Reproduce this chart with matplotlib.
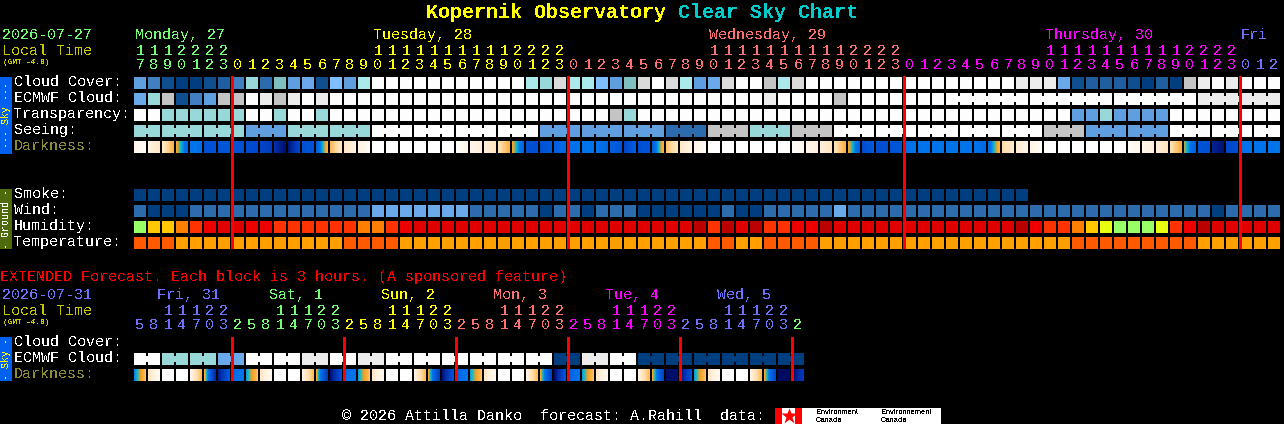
import matplotlib
matplotlib.use('Agg')
import matplotlib.pyplot as plt
import numpy as np
from matplotlib.colors import LinearSegmentedColormap
from matplotlib.patches import Rectangle

plt.rcParams['font.family'] = ['Liberation Mono', 'DejaVu Sans Mono']
plt.rcParams['text.antialiased'] = False

# Chart content, one letter per block
cloud_cover = list("FEBAABCEJDIFGBHFK" + "W" * 11 + "KJMKKHFIMWMKFGMWWLKM" + "W" * 15 + "NNN" + "GBCCCBACALNWNWWW")
ecmwf_cloud = list("GJLBEFLLWNLNWN" + "W" * 31 + "N" + "WWWW" + "L" + "W" * 25 + "N" * 6)
transparency = list("WWJJJJJJWWJWWJ" + "W" * 20 + "LJ" + "W" * 31 + "FFJFFFF" + "W" * 8)
seeing = list("J" * 8 + "FFF" + "J" * 6 + "W" * 12 + "F" * 9 + "DDD" + "LLL" + "JJJ" + "LLL" + "W" * 15 + "LLL" + "F" * 6 + "W" * 8)
smoke = list("A" * 64)
wind = list("D" + "AAA" + "D" * 13 + "G" * 7 + "D" * 5 + "A" + "DD" + "A" + "DDD" + "A" * 6 + "D" + "AA" + "D" * 5 + "G" + "D" * 26 + "A" + "DDDD")
humidity = list("gccoreddee" + "r" * 6 + "oored" + "d" * 19 + "brbdbrreebdd" + "d" * 11 + "berrocygggyreb" + "d" * 5)
temperature = list("sss" + "u" * 12 + "ssss" + "u" * 22 + "ss" + "uu" + "ssss" + "u" * 18 + "s" * 9 + "u" * 6)

# darkness at the left and right edge of each block, 0 = daylight, 1 = full dark
dark_left = [.06, .10, .15, .34, .50, .68, .66, .66, .70, .74, .85, .95, .68, .60, .28, .15, .10,
             0, 0, 0, 0, 0, 0, .01, .08, .12, .18, .34, .68, .68, .60, .50, .50, .50, .60, .74, .68, .60, .26, .15, .08,
             0, 0, 0, 0, 0, 0, .02, .08, .12, .18, .34, .70, .68, .66, .52, .50, .50, .50, .50, .50, .55, .20, .13, .08,
             0, 0, 0, 0, 0, 0, .03, .08, .12, .18, .38, .66, .90, .72, .52, .50, .50]
dark_right = [.04, .15, .30, .56, .52, .66, .66, .68, .72, .78, .98, .72, .66, .30, .15, .10, .04,
              0, 0, 0, 0, 0, 0, .08, .12, .16, .30, .58, .68, .62, .54, .50, .50, .56, .66, .60, .66, .30, .16, .09, .03,
              0, 0, 0, 0, 0, 0, .06, .11, .16, .30, .58, .62, .68, .66, .50, .50, .50, .50, .50, .56, .30, .14, .09, .03,
              0, 0, 0, 0, 0, 0, .07, .11, .16, .31, .60, .68, .96, .70, .50, .50, .50]

ext_ecmwf = list("WWJJJJGGWWWWNNWWNN" + "W" * 12 + "AANNWW" + "A" * 12)
ext_dark_left = [.48, .16, 0, 0, .08, .32, .92, .52, .45, .15, 0, 0, .10, .34, .96, .52,
                 .45, .15, 0, 0, .10, .34, .95, .56, .45, .15, 0, 0, .10, .34, .98, .58,
                 .45, .15, 0, 0, .10, .34, .98, .96, .45, .15, 0, 0, .10, .34, 1.0, .98]
ext_dark_right = [.26, .05, 0, 0, .28, .88, .62, .50, .26, .05, 0, 0, .28, .80, .68, .50,
                  .26, .05, 0, 0, .28, .78, .66, .50, .26, .05, 0, 0, .28, .76, .64, .50,
                  .26, .05, 0, 0, .28, .74, .98, .66, .26, .05, 0, 0, .28, .72, 1.0, .80]

row_labels = ["Cloud Cover:", "ECMWF Cloud:", "Transparency:", "Seeing:", "Darkness:"]
ground_labels = ["Smoke:", "Wind:", "Humidity:", "Temperature:"]
ext_labels = ["Cloud Cover:", "ECMWF Cloud:", "Darkness:"]

day_names = ["Monday, 27", "Tuesday, 28", "Wednesday, 29", "Thursday, 30", "Fri"]
day_first_block = [0, 17, 41, 65, 79]
ext_day_names = ["Fri, 31", "Sat, 1", "Sun, 2", "Mon, 3", "Tue, 4", "Wed, 5"]
ext_hours = [5, 8, 11, 14, 17, 20, 23, 2] * 6
red_blocks = [7, 31, 55, 79]

palette = {
    'A': '#003F7F', 'B': '#0F4F8F', 'C': '#1F5F9F', 'D': '#2C6CAC', 'E': '#4080C0',
    'F': '#5F9FDF', 'G': '#6AAAEA', 'H': '#7FBFFF', 'I': '#7FBFBF', 'J': '#98D8D8',
    'K': '#AAEAEA', 'L': '#C4C4C4', 'M': '#DADADA', 'N': '#ECECEC', 'W': '#FDFDFD',
    'g': '#99FF66', 'y': '#E8FF10', 'c': '#FFC800', 'o': '#FF8000', 'r': '#FF3300',
    'e': '#EE0000', 'd': '#E00000', 'b': '#BB0000', 's': '#FF5A00', 'u': '#FFA000',
}
dark_cmap = LinearSegmentedColormap.from_list('darkness', [
    (0, '#FFFFFF'), (.1, '#FFF3E2'), (.2, '#FFDDAA'), (.3, '#FFB040'), (.36, '#F0A020'),
    (.42, '#18B8C8'), (.5, '#0074EC'), (.68, '#0050D4'), (.85, '#0030B0'), (1, '#000A60')])

day_colors = ['#70FF70', '#FFFF00', '#FF7070', '#FF00FF', '#7070FF']
label_yellow = '#C8C800'
olive = '#8C8C30'

X0, PITCH, BLOCK = 134, 14, 12


def block_x(i):
    return X0 + PITCH * i


def draw_row(ax, values, y, necks=()):
    for i, v in enumerate(values):
        ax.add_patch(Rectangle((block_x(i), y), BLOCK, BLOCK, fc=palette[v], ec='none', antialiased=False))
    # blocks from the same model step are joined by a narrow bridge
    for i in necks:
        ax.add_patch(Rectangle((block_x(i) + BLOCK, y + 3), PITCH - BLOCK, 6, fc=palette[values[i]], ec='none', antialiased=False))


def draw_dark(ax, left, right, y):
    for i, (a, b) in enumerate(zip(left, right)):
        ax.imshow(np.linspace(a, b, BLOCK).reshape(1, -1), cmap=dark_cmap, vmin=0, vmax=1, aspect='auto',
                  interpolation='nearest', extent=(block_x(i), block_x(i) + BLOCK, y + BLOCK, y))


def label(ax, x, y, s, color='white', size=10.8, **kw):
    ax.text(x, y, s, color=color, fontsize=size, va='center', ha=kw.pop('ha', 'left'), **kw)


fig = plt.figure(figsize=(12.84, 4.24), dpi=100, facecolor='black')
ax = fig.add_axes([0, 0, 1, 1])
ax.set_facecolor('black')
ax.axis('off')

# title
label(ax, 426, 12, "Kopernik Observatory", color='#FFFF00', size=14.4, fontweight='bold')
label(ax, 678, 12, "Clear Sky Chart", color='#00CCCC', size=14.4, fontweight='bold')

# top header
label(ax, 2, 35, "2026-07-27", color=day_colors[0])
label(ax, 2, 51, "Local Time", color=label_yellow)
label(ax, 3, 62, "(GMT -4.0)", color=label_yellow, size=5.6, fontweight='bold')
for k, (name, i) in enumerate(zip(day_names, day_first_block)):
    label(ax, block_x(i) + 1, 35, name, color=day_colors[k % 5])
for i in range(82):
    hour = (17 + i) % 24
    col = day_colors[((i + 17) // 24) % 5]
    label(ax, block_x(i) + 6, 65, str(hour % 10), color=col, ha='center')
    if hour >= 10:
        label(ax, block_x(i) + 6, 51, str(hour // 10), color=col, ha='center')

# sky rows
ecmwf_necks = [i for i in range(58, 81) if (i - 58) % 6 != 5]
seeing_necks = [i for i in range(81) if (i - 1) % 3 != 0]
draw_row(ax, cloud_cover, 77)
draw_row(ax, ecmwf_cloud, 93, ecmwf_necks)
draw_row(ax, transparency, 109)
draw_row(ax, seeing, 125, seeing_necks)
draw_dark(ax, dark_left, dark_right, 141)
for k, s in enumerate(row_labels):
    label(ax, 14, 82 + 16 * k, s, color=olive if s == "Darkness:" else 'white')

# ground rows
draw_row(ax, smoke, 189)
draw_row(ax, wind, 205)
draw_row(ax, humidity, 221)
draw_row(ax, temperature, 237)
for k, s in enumerate(ground_labels):
    label(ax, 14, 194 + 16 * k, s)

# side bars
ax.add_patch(Rectangle((0, 77), 12, 77, fc='#0060F0', ec='none', antialiased=False))
ax.text(6, 115.5, "--- Sky ---", color='#FFFF00', fontsize=7.2, rotation=90, ha='center', va='center')
ax.add_patch(Rectangle((0, 189), 12, 60, fc='#4F6A0A', ec='none', antialiased=False))
ax.text(6, 219, "- Ground -", color='white', fontsize=7.2, rotation=90, ha='center', va='center')
ax.add_patch(Rectangle((0, 337), 12, 44, fc='#0060F0', ec='none', antialiased=False))
ax.text(6, 359, "- Sky -", color='#FFFF00', fontsize=7.2, rotation=90, ha='center', va='center')

# extended forecast
label(ax, 0, 277, "EXTENDED Forecast. Each block is 3 hours. (A sponsored feature)", color='#FF0000')
label(ax, 2, 295, "2026-07-31", color=day_colors[4])
label(ax, 2, 311, "Local Time", color=label_yellow)
label(ax, 3, 322, "(GMT -4.0)", color=label_yellow, size=5.6, fontweight='bold')
for k, name in enumerate(ext_day_names):
    label(ax, 157 + 112 * k, 295, name, color=day_colors[(k + 4) % 5])
for i, hour in enumerate(ext_hours):
    col = day_colors[(4 + (i + 1) // 8) % 5]
    label(ax, block_x(i) + 6, 325, str(hour % 10), color=col, ha='center')
    if hour >= 10:
        label(ax, block_x(i) + 6, 311, str(hour // 10), color=col, ha='center')
draw_row(ax, ext_ecmwf, 353, range(0, 47, 2))
draw_dark(ax, ext_dark_left, ext_dark_right, 369)
for k, s in enumerate(ext_labels):
    label(ax, 14, 342 + 16 * k, s, color=olive if s == "Darkness:" else 'white')

# midnight markers
for i in red_blocks:
    ax.add_patch(Rectangle((block_x(i) - 1, 76), 3, 173, fc='#FF0000', ec='none', antialiased=False, zorder=5))
for i in range(7, 48, 8):
    ax.add_patch(Rectangle((block_x(i) - 1, 337), 3, 44, fc='#FF0000', ec='none', antialiased=False, zorder=5))

# footer
label(ax, 342, 416, "\u00a9 2026 Attilla Danko  forecast: A.Rahill  data:")
ax.add_patch(Rectangle((775, 408), 166, 16, fc='white', ec='none', antialiased=False))
ax.add_patch(Rectangle((775, 408), 7, 16, fc='#FF0000', ec='none', antialiased=False))
ax.add_patch(Rectangle((795, 408), 7, 16, fc='#FF0000', ec='none', antialiased=False))
ax.plot([788.5], [415.5], marker='*', ms=12, color='#FF0000', mec='none')
for x, s in [(816, "Environment"), (881, "Environnement")]:
    ax.text(x, 413, s, color='black', fontsize=5.4, va='center', family='Liberation Sans')
    ax.text(x, 420, "Canada", color='black', fontsize=5.4, va='center', family='Liberation Sans')

ax.set_xlim(0, 1284)
ax.set_ylim(424, 0)
fig.savefig('out.png', dpi=100, facecolor='black')
